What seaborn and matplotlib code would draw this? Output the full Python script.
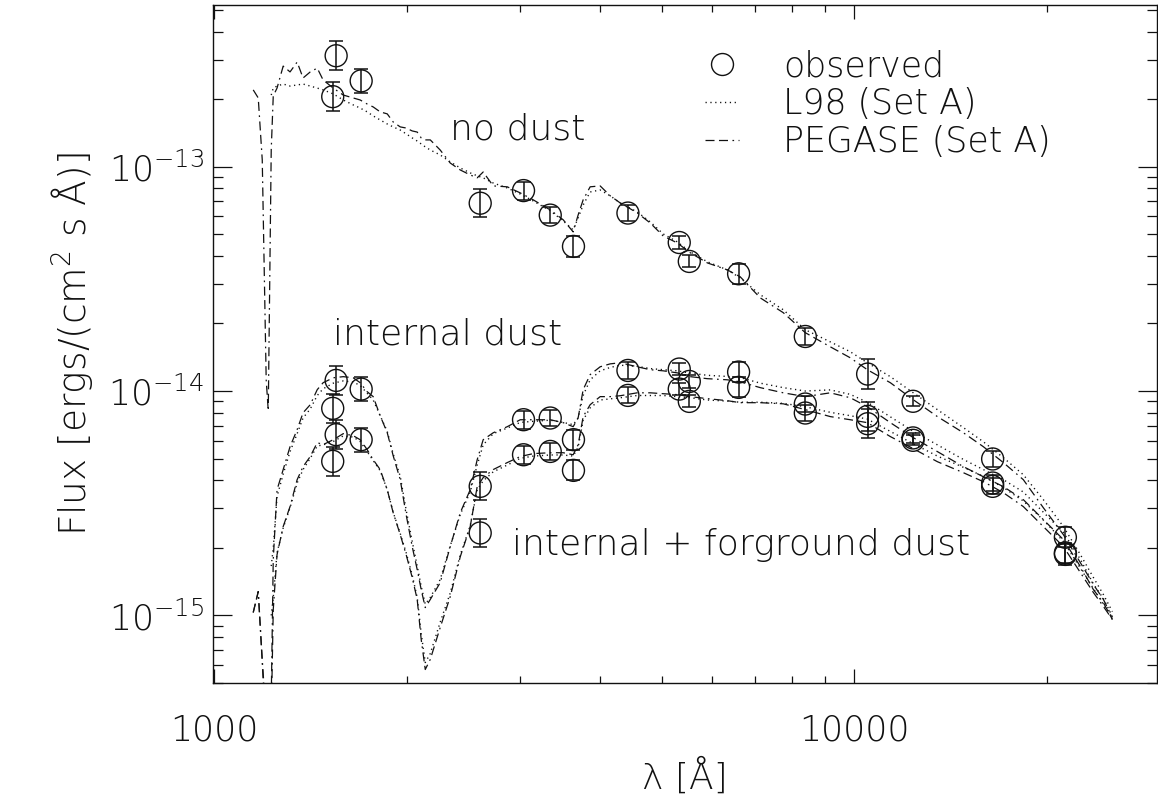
import numpy as np
import matplotlib
matplotlib.use("Agg")
import matplotlib.pyplot as plt
from matplotlib.lines import Line2D
from matplotlib.ticker import LogLocator, NullFormatter
import seaborn as sns

# ---------------------------------------------------------------- data
# observed broad-band photometry (wavelength in Angstrom)
obs_wave = [1532, 1551, 1697, 2604, 3043, 3350, 3642, 4430, 5328, 5524,
            6596, 8384, 10491, 12352, 16447, 21365]
# fluxes in erg / (cm^2 s A), three dust treatments
obs_flux_nodust = [2.05e-13, 3.12e-13, 2.41e-13, 6.87e-14, 7.82e-14, 6.08e-14,
                   4.41e-14, 6.21e-14, 4.59e-14, 3.78e-14, 3.33e-14, 1.75e-14,
                   1.19e-14, 9.0e-15, 4.98e-15, 2.23e-15]
obs_flux_internal = [8.37e-15, 1.115e-14, 1.02e-14, 3.76e-15, 7.45e-15, 7.58e-15,
                     6.07e-15, 1.235e-14, 1.253e-14, 1.103e-14, 1.215e-14, 8.75e-15,
                     7.71e-15, 6.18e-15, 3.89e-15, 1.90e-15]
obs_flux_intfg = [4.86e-15, 6.39e-15, 6.07e-15, 2.33e-15, 5.20e-15, 5.38e-15,
                  4.43e-15, 9.56e-15, 1.02e-14, 8.99e-15, 1.038e-14, 7.98e-15,
                  7.15e-15, 6.03e-15, 3.76e-15, 1.87e-15]
# photometric uncertainty (dex)
obs_err_dex = [0.065, 0.065, 0.053, 0.062, 0.040, 0.036, 0.045, 0.036, 0.027, 0.027,
               0.045, 0.036, 0.065, 0.022, 0.036, 0.045]

# model spectra: wavelength grid (Angstrom) and log10 flux
model_wave = [1151, 1172, 1189, 1206, 1215, 1228, 1237, 1254, 1282, 1314,
              1348, 1377, 1413, 1449, 1480, 1535, 1591, 1649, 1691, 1734,
              1772, 1817, 1864, 1904, 1953, 1995, 2039, 2076, 2106, 2137,
              2176, 2255, 2338, 2424, 2512, 2576, 2632, 2729, 2870, 3007,
              3151, 3350, 3510, 3638, 3704, 3771, 3867, 4009, 4156, 4309,
              4580, 4799, 5029, 5289, 5544, 5894, 6332, 6634, 7131, 7746,
              8384, 9173, 9857, 10479, 11384, 12365, 13484, 14804, 15905, 17092,
              18365, 19736, 21212, 22549, 23630, 24495, 25300]

pegase_nodust = [-12.658, -12.694, -12.970, -13.950, -14.088, -12.926, -12.685, -12.650, -12.552, -12.578,
                 -12.534, -12.605, -12.578, -12.561, -12.614, -12.650, -12.681, -12.694, -12.703, -12.721,
                 -12.734, -12.756, -12.765, -12.801, -12.823, -12.828, -12.841, -12.846, -12.872, -12.881,
                 -12.881, -12.926, -12.984, -13.015, -13.037, -13.050, -13.024, -13.086, -13.090, -13.117,
                 -13.148, -13.193, -13.237, -13.291, -13.215, -13.148, -13.090, -13.086, -13.130, -13.162,
                 -13.206, -13.251, -13.309, -13.340, -13.384, -13.429, -13.460, -13.491, -13.585, -13.651,
                 -13.740, -13.803, -13.852, -13.905, -13.963, -14.039, -14.114, -14.186, -14.248, -14.319,
                 -14.395, -14.520, -14.640, -14.765, -14.862, -14.929, -15.009]
pegase_internal = [-14.987, -14.894, -15.196, -15.464, -15.642, -15.375, -14.751, -14.440, -14.350, -14.248,
                   -14.172, -14.097, -14.061, -13.994, -13.963, -13.941, -13.936, -13.941, -13.963, -14.003,
                   -14.025, -14.110, -14.186, -14.288, -14.395, -14.551, -14.693, -14.796, -14.885, -14.965,
                   -14.929, -14.854, -14.693, -14.542, -14.440, -14.306, -14.217, -14.186, -14.159, -14.128,
                   -14.128, -14.128, -14.141, -14.159, -14.119, -13.994, -13.927, -13.892, -13.879, -13.874,
                   -13.892, -13.905, -13.910, -13.919, -13.936, -13.945, -13.950, -13.959, -13.985, -14.008,
                   -14.025, -14.008, -14.030, -14.070, -14.141, -14.208, -14.270, -14.337, -14.382, -14.426,
                   -14.484, -14.573, -14.662, -14.782, -14.885, -14.943, -15.018]
pegase_intfg = [-14.987, -14.894, -15.210, -15.553, -15.731, -15.464, -14.974, -14.729, -14.604, -14.515,
                -14.395, -14.337, -14.292, -14.230, -14.239, -14.217, -14.190, -14.199, -14.217, -14.261,
                -14.306, -14.350, -14.440, -14.542, -14.640, -14.729, -14.831, -14.929, -15.107, -15.241,
                -15.196, -15.054, -14.916, -14.738, -14.604, -14.426, -14.386, -14.350, -14.319, -14.292,
                -14.279, -14.275, -14.275, -14.284, -14.239, -14.114, -14.061, -14.025, -14.025, -14.021,
                -14.008, -14.008, -14.012, -14.016, -14.025, -14.034, -14.043, -14.052, -14.052, -14.057,
                -14.083, -14.114, -14.128, -14.141, -14.203, -14.257, -14.315, -14.364, -14.404, -14.453,
                -14.515, -14.604, -14.693, -14.809, -14.898, -14.960, -15.018]

# L98 spectra start redward of Lyman alpha
l98_wave = model_wave[5:]
l98_nodust = [-12.681, -12.650, -12.641, -12.632, -12.641, -12.636, -12.632, -12.641, -12.650, -12.658,
              -12.676, -12.703, -12.725, -12.739, -12.756, -12.774, -12.792, -12.810, -12.823, -12.837,
              -12.854, -12.872, -12.886, -12.899, -12.912, -12.926, -12.948, -12.979, -13.006, -13.028,
              -13.041, -13.050, -13.073, -13.095, -13.122, -13.153, -13.197, -13.242, -13.282, -13.228,
              -13.171, -13.113, -13.104, -13.130, -13.162, -13.202, -13.246, -13.300, -13.335, -13.380,
              -13.424, -13.460, -13.496, -13.571, -13.638, -13.727, -13.781, -13.825, -13.874, -13.936,
              -14.008, -14.083, -14.163, -14.226, -14.297, -14.373, -14.484, -14.604, -14.729, -14.831,
              -14.907, -14.983]
l98_internal = [-14.78, -14.70, -14.47, -14.37, -14.27, -14.19, -14.12, -14.08, -14.02, -13.99,
                -13.965, -13.955, -13.96, -13.975, -14.01, -14.04, -14.11, -14.18, -14.28, -14.38,
                -14.53, -14.67, -14.78, -14.87, -14.95, -14.92, -14.84, -14.69, -14.55, -14.45,
                -14.33, -14.24, -14.19, -14.165, -14.14, -14.135, -14.13, -14.14, -14.15, -14.12,
                -14.02, -13.95, -13.91, -13.895, -13.885, -13.89, -13.90, -13.905, -13.91, -13.92,
                -13.93, -13.935, -13.94, -13.965, -13.985, -14.0, -13.995, -14.015, -14.05, -14.115,
                -14.18, -14.24, -14.305, -14.35, -14.395, -14.45, -14.54, -14.63, -14.75, -14.86,
                -14.925, -15.005]
l98_intfg = [-15.0, -14.92, -14.72, -14.61, -14.52, -14.41, -14.35, -14.30, -14.245, -14.24,
             -14.225, -14.20, -14.205, -14.225, -14.27, -14.31, -14.355, -14.44, -14.54, -14.635,
             -14.72, -14.82, -14.92, -15.08, -15.21, -15.17, -15.03, -14.90, -14.73, -14.60,
             -14.44, -14.40, -14.36, -14.33, -14.30, -14.29, -14.285, -14.285, -14.29, -14.25,
             -14.13, -14.075, -14.04, -14.035, -14.03, -14.02, -14.02, -14.02, -14.025, -14.03,
             -14.04, -14.045, -14.05, -14.05, -14.055, -14.07, -14.095, -14.11, -14.125, -14.18,
             -14.235, -14.29, -14.34, -14.38, -14.43, -14.49, -14.575, -14.67, -14.79, -14.88,
             -14.95, -15.01]

y_ticks = [1e-15, 1e-14, 1e-13]
y_ticklabels = [r"10$^{-15}$", r"10$^{-14}$", r"10$^{-13}$"]
x_ticks = [1000, 10000]
x_ticklabels = ["1000", "10000"]

# ---------------------------------------------------------------- style
sns.set_theme(style="ticks")
plt.rcParams["font.family"] = ["DejaVu Sans"]
plt.rcParams["font.weight"] = 200
plt.rcParams["axes.labelweight"] = 200
plt.rcParams["mathtext.fontset"] = "custom"
plt.rcParams["mathtext.rm"] = "DejaVu Sans:extralight"
plt.rcParams["mathtext.it"] = "DejaVu Sans:extralight"
plt.rcParams["mathtext.bf"] = "DejaVu Sans:extralight"
plt.rcParams["lines.scale_dashes"] = False
plt.rcParams["axes.unicode_minus"] = True

INK = "#111111"
FS = 25
W = 200

L98_DASH = (0, (0.9, 2.6))
PEG_DASH = (0, (6.5, 3.2, 6.5, 3.2, 1.2, 3.2))

fig = plt.figure(figsize=(11.58, 7.96), dpi=100)
ax = fig.add_axes([0.1837, 0.142, 0.8154, 0.8517])
ax.set_xscale("log")
ax.set_yscale("log")

# model spectra
for wave, logf in [(model_wave, pegase_nodust), (model_wave, pegase_internal),
                   (model_wave, pegase_intfg)]:
    sns.lineplot(x=wave, y=10 ** np.asarray(logf), ax=ax, color=INK, lw=0.9,
                 sort=False, estimator=None, linestyle=PEG_DASH)
for wave, logf in [(l98_wave, l98_nodust), (l98_wave, l98_internal),
                   (l98_wave, l98_intfg)]:
    sns.lineplot(x=wave, y=10 ** np.asarray(logf), ax=ax, color=INK, lw=1.0,
                 sort=False, estimator=None, linestyle=L98_DASH)

# observed points with error bars
all_wave = np.array(obs_wave * 3, dtype=float)
all_flux = np.array(obs_flux_nodust + obs_flux_internal + obs_flux_intfg)
all_err = np.array(obs_err_dex * 3)
err_lo = all_flux * (1 - 10 ** (-all_err))
err_hi = all_flux * (10 ** all_err - 1)
ax.errorbar(all_wave, all_flux, yerr=[err_lo, err_hi], fmt="none", ecolor=INK,
            elinewidth=1.1, capsize=5, capthick=1.1, zorder=3)
sns.scatterplot(x=all_wave, y=all_flux, ax=ax, marker="o", s=250,
                facecolor="none", edgecolor=INK, linewidth=1.0, zorder=4)

# axes
ax.set_xlim(995, 29700)
ax.set_ylim(5.0e-16, 5.25e-13)
ax.set_xticks(x_ticks, labels=x_ticklabels)
ax.xaxis.set_minor_locator(LogLocator(base=10, subs=np.arange(2, 10), numticks=20))
ax.xaxis.set_minor_formatter(NullFormatter())
ax.set_yticks(y_ticks, labels=y_ticklabels)
ax.yaxis.set_minor_locator(LogLocator(base=10, subs=np.arange(2, 10), numticks=20))
ax.yaxis.set_minor_formatter(NullFormatter())

for side in ax.spines.values():
    side.set_linewidth(1.0)
    side.set_color(INK)
    side.set_visible(True)
ax.tick_params(which="both", direction="in", top=True, right=True,
               color=INK, width=0.9, labelsize=FS, labelcolor=INK)
ax.tick_params(axis="x", which="major", length=10, pad=22)
ax.tick_params(axis="x", which="minor", length=5)
ax.tick_params(axis="y", which="major", length=13.5, pad=6)
ax.tick_params(axis="y", which="minor", length=7)
for lab in ax.get_xticklabels() + ax.get_yticklabels():
    lab.set_fontweight(W)

ax.set_xlabel("λ [Å]", fontsize=26, color=INK, labelpad=8, fontweight=W)
ax.set_ylabel("Flux [ergs/(cm$^2$ s Å)]", fontsize=27, color=INK, labelpad=10,
              fontweight=W)

# annotations
ax.text(2338, 1.315e-13, "no dust", fontsize=26, color=INK, ha="left",
        va="baseline", fontweight=W)
ax.text(1535, 1.607e-14, "internal dust", fontsize=26, color=INK, ha="left",
        va="baseline", fontweight=W)
ax.text(2922, 1.85e-15, "internal + forground dust", fontsize=26, color=INK,
        ha="left", va="baseline", fontweight=W)

# legend
handles = [
    Line2D([], [], marker="o", linestyle="none", markersize=15.8,
           markerfacecolor="none", markeredgecolor=INK, markeredgewidth=1.0),
    Line2D([], [], color=INK, lw=1.0, linestyle=L98_DASH),
    Line2D([], [], color=INK, lw=0.9, linestyle=PEG_DASH),
]
labels = ["observed", "L98 (Set A)", "PEGASE (Set A)"]
leg = ax.legend(handles, labels, loc="upper left", bbox_to_anchor=(0.521, 0.935),
                frameon=False, fontsize=FS, handlelength=1.0, handletextpad=1.25,
                labelspacing=0.11, borderpad=0, borderaxespad=0, labelcolor=INK,
                prop={"size": FS, "weight": W})

fig.savefig("out.png", dpi=100)
